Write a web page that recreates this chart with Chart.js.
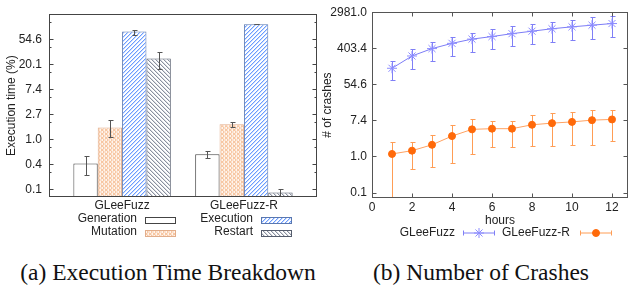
<!DOCTYPE html>
<html>
<head>
<meta charset="utf-8">
<script src="https://cdn.jsdelivr.net/npm/chart.js@4.4.1/dist/chart.umd.min.js"></script>
<style>
  body { margin: 0; background: #fff; width: 629px; height: 287px; overflow: hidden; position: relative; }
  .box { position: absolute; top: 0; height: 250px; }
  .cap { position: absolute; top: 259px; font-family: 'Liberation Serif', 'Times New Roman', serif; font-size: 23.5px; line-height: 26px; text-align: center; color: #111; white-space: nowrap; }
</style>
</head>
<body>
<div class="box" style="left:0;width:320px"><canvas id="breakdown"></canvas></div>
<div class="box" style="left:320px;width:309px"><canvas id="crashes"></canvas></div>
<div class="cap" style="left:0;width:336px">(a) Execution Time Breakdown</div>
<div class="cap" style="left:331px;width:300px">(b) Number of Crashes</div>
<script>
// (a) execution time breakdown, one entry per fuzzer
const fuzzers = ['GLeeFuzz', 'GLeeFuzz-R'];
const generationTime = [0.38, 0.55];
const generationLow = [0.24, 0.48];
const generationHigh = [0.51, 0.62];
const mutationTime = [1.6, 1.83];
const mutationLow = [1.1, 1.67];
const mutationHigh = [2.13, 2.0];
const executionTime = [74, 99];
const executionLow = [65, 99];
const executionHigh = [80, 99];
const restartTime = [25.3, 0.12];
const restartLow = [16.6, 0.09];
const restartHigh = [33.4, 0.14];
const timeTicks = [0.1353, 0.3679, 1, 2.718, 7.389, 20.09, 54.6];
const timeMinorTicks = [0.2707, 0.7358, 2, 5.437, 14.78, 40.17, 109.2];

// (b) number of crashes over time
const hours = [1, 2, 3, 4, 5, 6, 7, 8, 9, 10, 11, 12];
const hourTicks = [0, 2, 4, 6, 8, 10, 12];
const crashesFull = [133, 263, 396, 530, 670, 773, 907, 1040, 1190, 1325, 1450, 1590];
const crashesFullLow = [68, 129, 200, 263, 327, 385, 450, 502, 560, 625, 690, 735];
const crashesFullHigh = [200, 392, 578, 770, 960, 1190, 1400, 1590, 1770, 1960, 2230, 2390];
const crashesR = [1.15, 1.38, 1.91, 3.1, 4.5, 4.67, 4.67, 5.8, 6.35, 6.8, 7.5, 7.8];
const crashesRLow = [0.05, 0.5, 0.56, 0.69, 1.15, 1.7, 1.7, 1.8, 1.8, 1.87, 1.87, 2.37];
const crashesRHigh = [2.25, 2.25, 3.27, 5.6, 7.8, 7.3, 7.3, 9.8, 10.9, 11.9, 12.8, 12.8];
const crashTicks = [0.1353, 1, 7.389, 54.6, 403.43, 2980.96];

const FONT = '12px "Liberation Sans", Arial, sans-serif';
Chart.defaults.font.family = '"Liberation Sans", Arial, sans-serif';
Chart.defaults.font.size = 12;
Chart.defaults.color = '#222';

// pixel exact hatch tiles, 4x4
function hatch(bg, fg, soft, kind) {
  const c = document.createElement('canvas');
  c.width = 4; c.height = 4;
  const g = c.getContext('2d');
  g.fillStyle = bg;
  g.fillRect(0, 0, 4, 4);
  for (let i = 0; i < 4; i++) {
    if (kind === '/' || kind === 'x') {
      g.fillStyle = soft; g.fillRect((i + 1) % 4, 3 - i, 1, 1);
      g.fillStyle = fg; g.fillRect(i, 3 - i, 1, 1);
    }
    if (kind === '\\' || kind === 'x') {
      g.fillStyle = soft; g.fillRect((i + 1) % 4, i, 1, 1);
      g.fillStyle = fg; g.fillRect(i, i, 1, 1);
    }
  }
  return g.createPattern(c, 'repeat');
}

const errorBars = {
  id: 'errorBars',
  draw(chart, cap) {
    const ctx = chart.ctx, y = chart.scales.y, a = chart.chartArea;
    ctx.save();
    ctx.beginPath();
    ctx.rect(a.left, a.top, a.right - a.left, a.bottom - a.top);
    ctx.clip();
    chart.data.datasets.forEach((ds, d) => {
      if (!ds.errLow) return;
      ctx.strokeStyle = ds.errColor;
      ctx.lineWidth = 1;
      chart.getDatasetMeta(d).data.forEach((el, i) => {
        const x = Math.round(el.x) + 0.5;
        const top = Math.round(y.getPixelForValue(ds.errHigh[i])) + 0.5;
        const bot = Math.round(y.getPixelForValue(ds.errLow[i])) + 0.5;
        ctx.beginPath();
        ctx.moveTo(x, top); ctx.lineTo(x, bot);
        ctx.moveTo(x - cap, top); ctx.lineTo(x + cap + 1, top);
        ctx.moveTo(x - cap, bot); ctx.lineTo(x + cap + 1, bot);
        ctx.stroke();
      });
    });
    ctx.restore();
  },
  beforeDatasetsDraw(chart, args, opts) { if (opts.under) this.draw(chart, opts.cap); },
  afterDatasetsDraw(chart, args, opts) { if (!opts.under) this.draw(chart, opts.cap); }
};

// gnuplot style box with inward ticks
const frame = {
  id: 'frame',
  afterDraw(chart, args, opts) {
    const { ctx, chartArea: a, scales } = chart;
    const L = Math.round(a.left) + 0.5, R = Math.round(a.right) - 0.5;
    const T = Math.round(a.top) + 0.5, B = Math.round(a.bottom) - 0.5;
    ctx.save();
    ctx.strokeStyle = opts.color;
    ctx.lineWidth = 1;
    ctx.beginPath();
    const yTick = (v, len) => {
      const p = Math.round(scales.y.getPixelForValue(v)) + 0.5;
      ctx.moveTo(L, p); ctx.lineTo(L + len, p);
      ctx.moveTo(R, p); ctx.lineTo(R - len, p);
    };
    scales.y.ticks.forEach(t => yTick(t.value, 4));
    (opts.minor || []).forEach(v => yTick(v, 2));
    if (opts.xTicks) {
      scales.x.ticks.forEach(t => {
        const p = Math.round(scales.x.getPixelForValue(t.value)) + 0.5;
        ctx.moveTo(p, B); ctx.lineTo(p, B - 4);
        ctx.moveTo(p, T); ctx.lineTo(p, T + 4);
      });
    }
    ctx.stroke();
    ctx.strokeRect(L, T, R - L, B - T);
    ctx.restore();
  }
};

const phaseLegend = {
  id: 'phaseLegend',
  afterDraw(chart, args, opts) {
    const ctx = chart.ctx;
    ctx.save();
    ctx.font = FONT;
    ctx.textAlign = 'right';
    ctx.textBaseline = 'middle';
    chart.data.datasets.forEach((ds, i) => {
      const col = Math.floor(i / 2), row = i % 2;
      ctx.fillStyle = '#222';
      ctx.fillText(ds.label, opts.textRight[col], opts.textY[row]);
      const x = opts.boxX[col], y = opts.boxY[row];
      ctx.fillStyle = ds.backgroundColor;
      ctx.fillRect(x, y, 31, 6);
      ctx.strokeStyle = ds.borderColor;
      ctx.lineWidth = 1;
      ctx.strokeRect(x + 0.5, y + 0.5, 30, 6);
    });
    ctx.restore();
  }
};

const crashLegend = {
  id: 'crashLegend',
  afterDraw(chart, args, opts) {
    const ctx = chart.ctx;
    ctx.save();
    ctx.font = FONT;
    ctx.textAlign = 'right';
    ctx.textBaseline = 'middle';
    chart.data.datasets.forEach((ds, i) => {
      const y = opts.y, x0 = opts.lineX[i] + 0.5, x1 = x0 + 31;
      ctx.fillStyle = '#222';
      ctx.fillText(ds.label, opts.textRight[i], y);
      ctx.strokeStyle = ds.errColor;
      ctx.lineWidth = 1;
      ctx.beginPath();
      ctx.moveTo(x0, y + 0.5); ctx.lineTo(x1, y + 0.5);
      ctx.moveTo(x0, y - 2); ctx.lineTo(x0, y + 3);
      ctx.moveTo(x1, y - 2); ctx.lineTo(x1, y + 3);
      ctx.stroke();
      ctx.fillStyle = ds.pointBackgroundColor;
      ctx.strokeStyle = ds.pointBorderColor;
      Chart.helpers.drawPoint(ctx, { pointStyle: ds.pointStyle, radius: ds.pointRadius, borderWidth: 1, rotation: 0 }, (x0 + x1) / 2, y + 0.5);
    });
    ctx.restore();
  }
};

function noPad(s) {
  s.paddingLeft = 0; s.paddingRight = 0;
}

function barSet(label, values, low, high, fill, border) {
  return {
    label: label,
    data: values.map((v, i) => ({ x: i, y: v })),
    backgroundColor: fill,
    borderColor: border,
    borderWidth: 1,
    barPercentage: 1,
    categoryPercentage: 0.8,
    errLow: low,
    errHigh: high,
    errColor: '#555'
  };
}

new Chart(document.getElementById('breakdown'), {
  type: 'bar',
  data: {
    datasets: [
      barSet('Generation', generationTime, generationLow, generationHigh, '#ffffff', '#444'),
      barSet('Mutation', mutationTime, mutationLow, mutationHigh, hatch('#fff5ee', '#f7c7a3', '#fbe0cc', 'x'), '#e2ad8a'),
      barSet('Execution', executionTime, executionLow, executionHigh, hatch('#ffffff', '#6a9cff', '#cbdcff', '/'), '#5a78b0'),
      barSet('Restart', restartTime, restartLow, restartHigh, hatch('#ffffff', '#8a909e', '#d9dce3', '\\'), '#555c6c')
    ]
  },
  options: {
    responsive: true,
    maintainAspectRatio: false,
    animation: false,
    layout: { autoPadding: false, padding: { top: 7, right: 3, bottom: 38, left: 0 } },
    plugins: {
      legend: { display: false },
      tooltip: { enabled: false },
      errorBars: { cap: 2, under: false },
      frame: { color: '#444', minor: timeMinorTicks, xTicks: false },
      phaseLegend: { textRight: [137, 253], textY: [218.5, 232], boxX: [145, 261], boxY: [217, 230] }
    },
    scales: {
      x: {
        type: 'linear', min: -0.6, max: 1.6, offset: false,
        grid: { display: false, drawTicks: false },
        border: { display: false },
        afterBuildTicks: s => { s.ticks = fuzzers.map((f, i) => ({ value: i })); },
        ticks: { padding: 1, autoSkip: false, maxRotation: 0, callback: v => fuzzers[v] },
        afterFit: s => { s.height = 15; noPad(s); }
      },
      y: {
        type: 'logarithmic', min: 0.1, max: 148.4,
        grid: { display: false, drawTicks: false },
        border: { display: false },
        afterBuildTicks: s => { s.ticks = timeTicks.map(v => ({ value: v })); },
        ticks: { padding: 7, callback: v => v.toFixed(1) },
        title: { display: true, text: 'Execution time (%)', padding: { top: 4, bottom: 0 } },
        afterFit: s => { s.width = 49; }
      }
    }
  },
  plugins: [errorBars, frame, phaseLegend]
});

new Chart(document.getElementById('crashes'), {
  type: 'line',
  data: {
    datasets: [
      {
        label: 'GLeeFuzz',
        data: hours.map((h, i) => ({ x: h, y: crashesFull[i] })),
        borderColor: '#7c7cf6', borderWidth: 1,
        pointStyle: 'star', pointRadius: 5, pointBorderWidth: 1,
        pointBorderColor: '#8c8cff', pointBackgroundColor: '#8c8cff',
        errLow: crashesFullLow, errHigh: crashesFullHigh, errColor: '#7f7ff6'
      },
      {
        label: 'GLeeFuzz-R',
        data: hours.map((h, i) => ({ x: h, y: crashesR[i] })),
        borderColor: '#ffa262', borderWidth: 1,
        pointStyle: 'circle', pointRadius: 3.5, pointBorderWidth: 1,
        pointBorderColor: '#ff6a0a', pointBackgroundColor: '#ff6a0a',
        errLow: crashesRLow, errHigh: crashesRHigh, errColor: '#ff9d55'
      }
    ]
  },
  options: {
    responsive: true,
    maintainAspectRatio: false,
    animation: false,
    layout: { autoPadding: false, padding: { top: 7, right: 1, bottom: 22, left: 0 } },
    plugins: {
      legend: { display: false },
      tooltip: { enabled: false },
      errorBars: { cap: 2, under: true },
      frame: { color: '#555', xTicks: true },
      crashLegend: { textRight: [135, 250], lineX: [143, 260], y: 232.5 }
    },
    scales: {
      x: {
        type: 'linear', min: 0, max: 12.8,
        grid: { display: false, drawTicks: false },
        border: { display: false },
        afterBuildTicks: s => { s.ticks = hourTicks.map(v => ({ value: v })); },
        ticks: { padding: 2, autoSkip: false, maxRotation: 0 },
        title: { display: true, text: 'hours', padding: 0 },
        afterFit: s => { s.height = 30; noPad(s); }
      },
      y: {
        type: 'logarithmic', min: 0.1, max: 2981,
        grid: { display: false, drawTicks: false },
        border: { display: false },
        afterBuildTicks: s => { s.ticks = crashTicks.map(v => ({ value: v })); },
        ticks: { padding: 5, callback: v => v.toFixed(1) },
        title: { display: true, text: '# of crashes', padding: { top: 0, bottom: 0 } },
        afterFit: s => { s.width = 52; }
      }
    }
  },
  plugins: [errorBars, frame, crashLegend]
});
</script>
</body>
</html>
